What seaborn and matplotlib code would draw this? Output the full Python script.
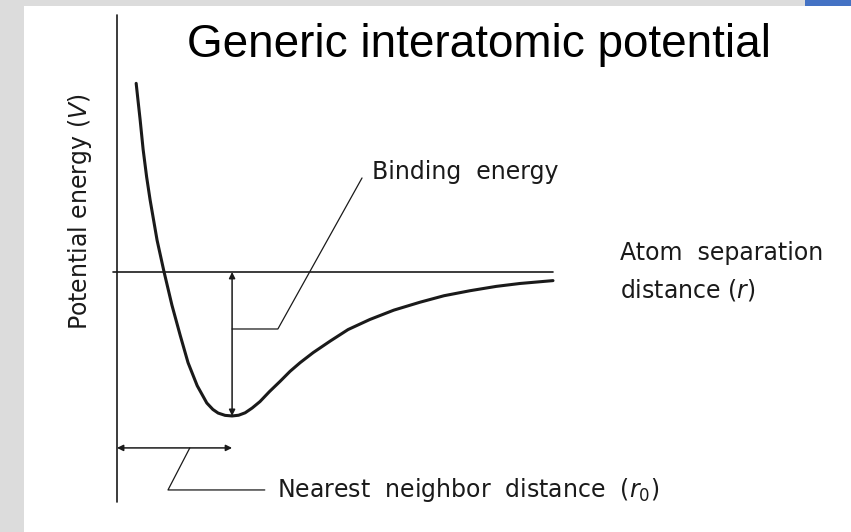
import numpy as np
import pandas as pd
import matplotlib
matplotlib.use('Agg')
import matplotlib.pyplot as plt
from matplotlib.patches import Rectangle
import seaborn as sns

# potential curve (r in arbitrary units, V relative to well depth)
r_vals = [0.44, 0.49, 0.53, 0.60, 0.68, 0.76, 0.92, 1.08, 1.26, 1.45, 1.63, 1.84, 2.06, 2.20,
          2.32, 2.48, 2.64, 2.79, 2.94, 3.10, 3.28, 3.50, 3.74, 3.97, 4.20, 4.50, 4.89, 5.30,
          5.80, 6.35, 6.95, 7.50, 8.10, 8.70, 9.24, 10.0]
v_vals = [1.31, 1.17, 1.06, 0.85, 0.66, 0.50, 0.22, 0.00, -0.23, -0.44, -0.63, -0.79, -0.91,
          -0.955, -0.98, -0.996, -1.00, -0.995, -0.978, -0.945, -0.90, -0.83, -0.76, -0.69,
          -0.63, -0.56, -0.48, -0.40, -0.33, -0.265, -0.21, -0.165, -0.13, -0.10, -0.08, -0.06]

title = 'Generic interatomic potential'
ylabel_txt = 'Potential energy ($V$)'
bind_txt = 'Binding  energy'
sep_txt = ['Atom  separation', 'distance ($r$)']
nn_txt = 'Nearest  neighbor  distance  ($r_0$)'

df = pd.DataFrame({'r': r_vals, 'V': v_vals})
i_min = int(np.argmin(v_vals))
r0, v_min = r_vals[i_min], v_vals[i_min]

sns.set_theme(style='white')
plt.rcParams['font.family'] = ['DejaVu Sans']

fig = plt.figure(figsize=(8.51, 5.32), dpi=100, facecolor='#dcdcdc')
fig.patches.append(Rectangle((24 / 851, 0), 1 - 24 / 851, 526 / 532, transform=fig.transFigure,
                             facecolor='white', edgecolor='none', zorder=-10))
fig.patches.append(Rectangle((805 / 851, 526 / 532), 46 / 851, 6 / 532, transform=fig.transFigure,
                             facecolor='#4472c4', edgecolor='none', zorder=-10))

ax = fig.add_axes([0, 0, 1, 1])
ax.set_facecolor('none')
ax.set_xlim(-2.683, 16.835)
ax.set_ylim(-1.806, 1.889)
ax.axis('off')

ink = '#1a1a1a'

# axes of the sketch
ax.plot([0, 0], [-1.60, 1.785], color=ink, lw=1.2)
ax.plot([-0.09, r_vals[-1]], [0, 0], color=ink, lw=1.2)

sns.lineplot(data=df, x='r', y='V', ax=ax, color=ink, lw=2.2, estimator=None, sort=False)

# binding energy arrow + leader
ax.annotate('', xy=(r0, v_min), xytext=(r0, 0),
            arrowprops=dict(arrowstyle='<|-|>', color=ink, lw=1.1, mutation_scale=9, shrinkA=0, shrinkB=0))
ax.plot([r0, 3.69, 5.62], [-0.396, -0.396, 0.653], color=ink, lw=0.9)
ax.text(5.85, 0.646, bind_txt, fontsize=17, color=ink, va='baseline', ha='left')

# nearest neighbour arrow + leader
y_nn = -1.222
ax.annotate('', xy=(r0, y_nn), xytext=(0, y_nn),
            arrowprops=dict(arrowstyle='<|-|>', color=ink, lw=1.1, mutation_scale=9, shrinkA=0, shrinkB=0))
ax.plot([1.67, 1.17, 3.39], [y_nn, -1.514, -1.514], color=ink, lw=0.9)
ax.text(3.67, -1.514, nn_txt, fontsize=17, color=ink, va='center', ha='left')

# labels
ax.text(11.54, 0.085, sep_txt[0], fontsize=17, color=ink, va='baseline', ha='left')
ax.text(11.54, -0.175, sep_txt[1], fontsize=17, color=ink, va='baseline', ha='left')
ax.text(-0.85, 0.417, ylabel_txt, fontsize=17, color=ink, va='center', ha='center', rotation=90)
ax.text(8.30, 1.493, title, fontsize=33, color='black', va='baseline', ha='center',
        family=['Liberation Sans Narrow', 'Liberation Sans', 'DejaVu Sans'])

fig.savefig('out.png', dpi=100, facecolor=fig.get_facecolor())
